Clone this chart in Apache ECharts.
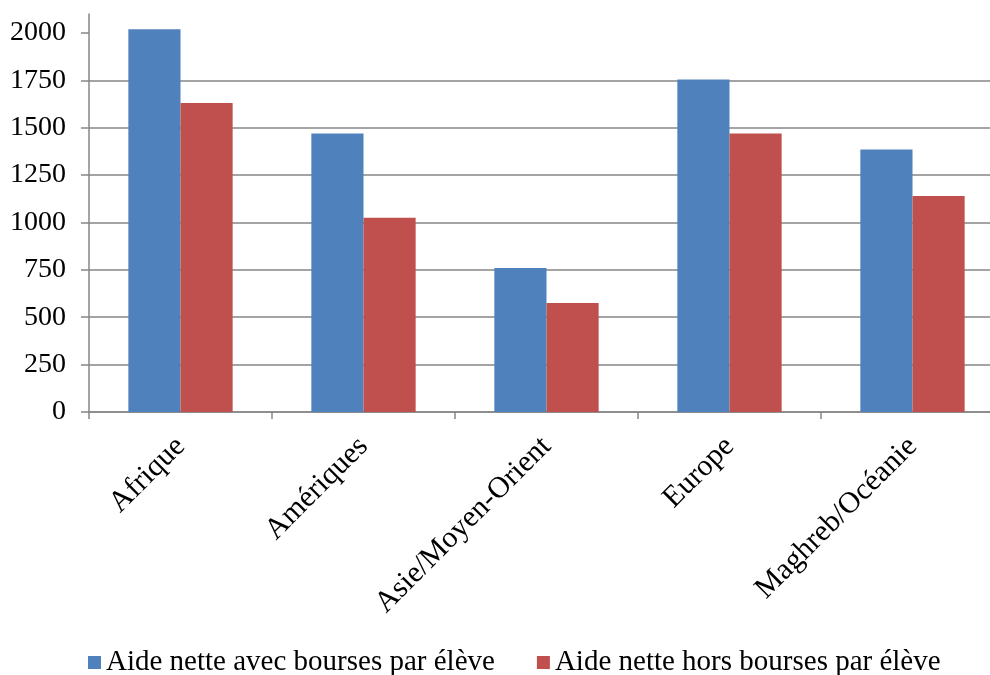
<!DOCTYPE html>
<html>
<head>
<meta charset="utf-8">
<script src="https://cdn.jsdelivr.net/npm/echarts@6/dist/echarts.min.js"></script>
<style>
html,body{margin:0;padding:0;background:#fff;}
#chart{width:990px;height:675px;}
</style>
</head>
<body>
<div id="chart"></div>
<script>
const categories = ['Afrique', 'Amériques', 'Asie/Moyen-Orient', 'Europe', 'Maghreb/Océanie'];
const seriesNames = ['Aide nette avec bourses par élève', 'Aide nette hors bourses par élève'];
const avecBourses = [2020, 1470, 760, 1755, 1385];
const horsBourses = [1630, 1025, 575, 1470, 1140];
const yTicks = [0, 250, 500, 750, 1000, 1250, 1500, 1750, 2000];

const FONT = '"Liberation Serif", "Times New Roman", serif';
const GRID = '#868686';

const chart = echarts.init(document.getElementById('chart'), null, {renderer: 'canvas'});
chart.setOption({
  animation: false,
  backgroundColor: '#ffffff',
  textStyle: {fontFamily: FONT},
  grid: {left: 89, width: 915, top: 14, height: 398, containLabel: false, outerBoundsMode: 'none'},
  legend: {
    left: 83, top: 643,
    itemWidth: 13, itemHeight: 13, itemGap: 42,
    icon: 'rect',
    textStyle: {fontFamily: FONT, fontSize: 29, color: '#000'},
    data: seriesNames
  },
  xAxis: {
    type: 'category',
    data: categories,
    boundaryGap: true,
    axisLine: {lineStyle: {color: GRID, width: 1.5}},
    axisTick: {show: true, length: 7, lineStyle: {color: GRID, width: 1.5}},
    axisLabel: {rotate: 45, margin: 30, fontFamily: FONT, fontSize: 30, color: '#000', interval: 0}
  },
  yAxis: {
    type: 'value',
    min: 0, max: 2100, interval: 250,
    axisLine: {show: true, lineStyle: {color: GRID, width: 1.5}},
    axisTick: {show: true, length: 8, inside: false, customValues: yTicks, lineStyle: {color: GRID, width: 1.5}},
    axisLabel: {margin: 23, fontFamily: FONT, fontSize: 28, color: '#000', customValues: yTicks,
                formatter: function (v) { return String(v); }},
    splitLine: {show: true, showMaxLine: false, lineStyle: {color: GRID, width: 1.5}}
  },
  series: [
    {name: seriesNames[0], type: 'bar', data: avecBourses, barGap: '0%', barCategoryGap: '43%',
     itemStyle: {color: '#4F81BD'}},
    {name: seriesNames[1], type: 'bar', data: horsBourses, barGap: '0%', barCategoryGap: '43%',
     itemStyle: {color: '#C0504D'}}
  ]
});
</script>
</body>
</html>
